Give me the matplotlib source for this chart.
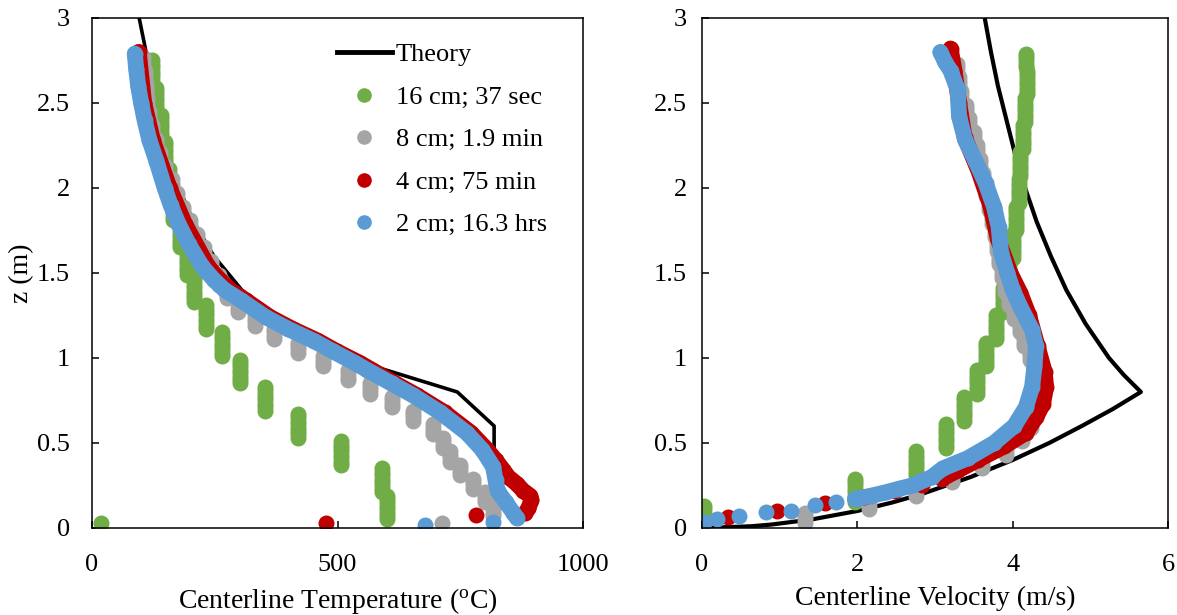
import numpy as np
import matplotlib
matplotlib.use("Agg")
import matplotlib.pyplot as plt
from matplotlib.lines import Line2D
from matplotlib.ticker import FuncFormatter

plt.rcParams['font.family'] = ['Liberation Serif', 'DejaVu Serif']
plt.rcParams['mathtext.fontset'] = 'custom'
plt.rcParams['mathtext.rm'] = 'Liberation Serif'
plt.rcParams['mathtext.it'] = 'Liberation Serif:italic'

# ---------------- data ----------------
labels = ['Theory', '16 cm; 37 sec', '8 cm; 1.9 min', '4 cm; 75 min', '2 cm; 16.3 hrs']
c_theory, c_green, c_gray, c_red, c_blue = '#000000', '#70AD47', '#A5A5A5', '#C00000', '#5B9BD5'

# Theory temperature (deg C) vs z (m)
theory_T_z = [0.0, 0.2, 0.4, 0.6, 0.8, 1.0, 1.2, 1.4, 1.6, 1.8, 2.0, 2.2, 2.4, 2.6, 2.8, 3.0]
theory_T = [819, 819, 819, 819, 744, 519, 388, 305, 248, 207, 177, 154, 136, 122, 110, 96]

# Theory velocity (m/s) vs z (m)
theory_v_z = [0.0, 0.01, 0.02, 0.05, 0.1, 0.15, 0.2, 0.3, 0.4, 0.5, 0.6, 0.7, 0.8,
              0.9, 1.0, 1.2, 1.4, 1.6, 1.8, 2.0, 2.2, 2.4, 2.6, 2.8, 3.0]
theory_v = [0.0, 0.63, 0.89, 1.41, 2.00, 2.45, 2.83, 3.46, 4.00, 4.47, 4.89, 5.29, 5.65,
            5.43, 5.24, 4.94, 4.69, 4.49, 4.31, 4.16, 4.03, 3.92, 3.81, 3.72, 3.64]

# 16 cm grid: one value per cell (cell centres)
green_T_z = [0.12, 0.28, 0.44, 0.60, 0.76, 0.92, 1.08, 1.24, 1.40, 1.56, 1.72, 1.88,
             2.04, 2.20, 2.36, 2.52, 2.68]
green_T = [600, 590, 508, 420, 352, 301, 264, 232, 208, 193, 179, 165, 157, 148, 140, 131, 123]
green_T_floor_z, green_T_floor = [0.03], [18]

green_v_z = [0.06, 0.22, 0.38, 0.54, 0.70, 0.86, 1.02, 1.18, 1.34, 1.50, 1.66, 1.82,
             1.98, 2.14, 2.30, 2.46, 2.62, 2.78]
green_v = [0.03, 1.97, 2.75, 3.14, 3.37, 3.54, 3.65, 3.78, 3.87, 3.95, 4.01, 4.04,
           4.08, 4.10, 4.13, 4.16, 4.19, 4.17]

# 8 cm grid
gray_T_z = [0.10, 0.18, 0.26, 0.34, 0.42, 0.50, 0.58, 0.66, 0.74, 0.82, 0.90, 0.98,
            1.06, 1.14, 1.22, 1.30, 1.38, 1.46, 1.54, 1.62, 1.70, 1.78, 1.86, 1.94,
            2.02, 2.10, 2.18, 2.26, 2.34, 2.42, 2.50, 2.58, 2.66, 2.74]
gray_T = [816, 800, 775, 750, 729, 715, 695, 654, 610, 566, 522, 470, 420, 371, 332, 298,
          274, 258, 242, 228, 214, 200, 186, 174, 162, 149, 139, 130, 123, 117, 112, 110, 107, 104]
gray_T_floor_z, gray_T_floor = [0.03], [712]

gray_v_z = [0.06, 0.14, 0.22, 0.30, 0.38, 0.46, 0.54, 0.62, 0.70, 0.78, 0.86, 0.94,
            1.02, 1.10, 1.18, 1.26, 1.34, 1.42, 1.50, 1.58, 1.66, 1.74, 1.82, 1.90,
            1.98, 2.06, 2.14, 2.22, 2.30, 2.38, 2.46, 2.54, 2.62, 2.70]
gray_v = [1.32, 2.15, 2.76, 3.22, 3.60, 3.92, 4.12, 4.23, 4.28, 4.30, 4.30, 4.28, 4.22,
          4.15, 4.10, 4.02, 3.95, 3.90, 3.86, 3.83, 3.80, 3.77, 3.74, 3.70, 3.66, 3.62,
          3.58, 3.54, 3.50, 3.44, 3.40, 3.34, 3.31, 3.28]

# 4 cm grid
red_T_z = [2.80, 2.50, 2.28, 2.00, 1.79, 1.54, 1.46, 1.40, 1.34, 1.24, 1.17, 1.10, 1.04,
           0.97, 0.93, 0.85, 0.78, 0.68, 0.56, 0.46, 0.40, 0.34, 0.30, 0.26, 0.22, 0.19,
           0.165, 0.116, 0.086]
red_T = [95, 106, 124, 158, 189, 236, 260, 282, 313, 363, 409, 461, 498, 546, 570, 618,
         662, 718, 772, 805, 822, 838, 848, 865, 878, 892, 895, 889, 882]
red_T_base_z, red_T_base = [0.077, 0.03], [782, 476]

red_v_z = [2.82, 2.69, 2.50, 2.30, 2.10, 1.90, 1.70, 1.50, 1.38, 1.25, 1.07, 0.92, 0.83,
           0.73, 0.65, 0.56, 0.48, 0.40, 0.34, 0.29]
red_v = [3.20, 3.25, 3.31, 3.38, 3.56, 3.71, 3.81, 3.97, 4.10, 4.21, 4.32, 4.41, 4.43,
         4.39, 4.30, 4.17, 3.89, 3.55, 3.30, 3.09]
red_v_base_z = [0.25, 0.22, 0.18, 0.145, 0.10, 0.063]
red_v_base = [2.83, 2.49, 2.08, 1.59, 0.97, 0.34]

# 2 cm grid
blue_T_z = [2.79, 2.70, 2.60, 2.50, 2.40, 2.28, 2.16, 2.00, 1.90, 1.79, 1.67, 1.54, 1.46,
            1.40, 1.34, 1.24, 1.17, 1.10, 1.04, 0.97, 0.93, 0.85, 0.78, 0.68, 0.56, 0.46,
            0.36, 0.28, 0.22, 0.15, 0.09, 0.06]
blue_T = [87, 90, 94, 100, 107, 117, 131, 148, 160, 176, 197, 224, 248, 270, 303, 354,
          400, 452, 490, 536, 560, 610, 654, 709, 763, 795, 817, 822, 826, 843, 858, 865]
blue_T_base_z, blue_T_base = [0.037, 0.018], [817, 678]

blue_v_z = [2.80, 2.74, 2.69, 2.58, 2.42, 2.28, 2.16, 2.03, 1.89, 1.77, 1.62, 1.50, 1.40,
            1.30, 1.165, 1.07, 0.95, 0.83, 0.71, 0.60, 0.50, 0.41, 0.35, 0.30, 0.25, 0.23,
            0.21, 0.19, 0.17]
blue_v = [3.07, 3.13, 3.20, 3.29, 3.31, 3.39, 3.52, 3.65, 3.76, 3.82, 3.85, 3.93, 4.00,
          4.10, 4.25, 4.30, 4.28, 4.25, 4.17, 4.02, 3.76, 3.42, 3.10, 2.96, 2.71, 2.53,
          2.37, 2.18, 1.97]
blue_v_base_z = [0.15, 0.135, 0.10, 0.094, 0.07, 0.053, 0.037]
blue_v_base = [1.72, 1.45, 1.14, 0.83, 0.48, 0.19, 0.02]

# ---------------- drawing ----------------
FS_TICK = 19
FS_LAB = 20
FS_LEG = 19
MS = 11.5
SUB16 = np.array([-0.07, -0.05, -0.03, -0.01, 0.01, 0.03, 0.05, 0.07])
SUB8 = np.array([-0.03, -0.01, 0.01, 0.03])


def cell_samples(zc, vals, offs):
    zs = (np.asarray(zc, float)[:, None] + offs[None, :]).ravel()
    vs = np.repeat(np.asarray(vals, float), len(offs))
    keep = (zs >= 0.03) & (zs <= 2.80)
    return vs[keep], zs[keep]


def dots(ax, x, z, c):
    ax.plot(x, z, ls='none', marker='o', ms=MS, mfc=c, mec='none')


def band(ax, x, z, c):
    ax.plot(x, z, ls='-', lw=MS, color=c, marker='o', ms=MS, mfc=c, mec='none',
            solid_capstyle='round', solid_joinstyle='round')


fig = plt.figure(figsize=(11.77, 6.15), dpi=100)
axL = fig.add_axes([0.0782, 0.1415, 0.4171, 0.8293])
axR = fig.add_axes([0.5964, 0.1415, 0.3960, 0.8293])

# left panel: temperature
axL.plot(theory_T, theory_T_z, color=c_theory, lw=2.6)
x, z = cell_samples(green_T_z, green_T, SUB16)
dots(axL, x, z, c_green)
dots(axL, green_T_floor, green_T_floor_z, c_green)
x, z = cell_samples(gray_T_z, gray_T, SUB8)
dots(axL, x, z, c_gray)
dots(axL, gray_T_floor, gray_T_floor_z, c_gray)
band(axL, red_T, red_T_z, c_red)
dots(axL, red_T_base, red_T_base_z, c_red)
band(axL, blue_T, blue_T_z, c_blue)
dots(axL, blue_T_base, blue_T_base_z, c_blue)

# right panel: velocity
axR.plot(theory_v, theory_v_z, color=c_theory, lw=3.0)
x, z = cell_samples(green_v_z, green_v, SUB16)
dots(axR, x, z, c_green)
x, z = cell_samples(gray_v_z, gray_v, SUB8)
dots(axR, x, z, c_gray)
band(axR, red_v, red_v_z, c_red)
dots(axR, red_v_base, red_v_base_z, c_red)
band(axR, blue_v, blue_v_z, c_blue)
dots(axR, blue_v_base, blue_v_base_z, c_blue)

fmt = FuncFormatter(lambda v, p: f'{v:g}')
for ax in (axL, axR):
    ax.set_ylim(0, 3)
    ax.set_yticks([0, 0.5, 1, 1.5, 2, 2.5, 3])
    ax.yaxis.set_major_formatter(fmt)
    ax.tick_params(direction='in', length=5, width=1.1, labelsize=FS_TICK, colors='black')
    ax.tick_params(axis='x', pad=19)
    for s in ax.spines.values():
        s.set_linewidth(1.1)
        s.set_color('black')
axL.tick_params(axis='y', pad=16)
axR.tick_params(axis='y', pad=11)

axL.set_xlim(0, 1000)
axL.set_xticks([0, 500, 1000])
axR.set_xlim(0, 6)
axR.set_xticks([0, 2, 4, 6])

axL.set_xlabel(r'Centerline Temperature ($^{\mathrm{o}}$C)', fontsize=FS_LAB, labelpad=7)
axR.set_xlabel('Centerline Velocity (m/s)', fontsize=FS_LAB, labelpad=7)
axL.set_ylabel('z (m)', fontsize=FS_LAB, labelpad=2)

handles = [Line2D([], [], color=c_theory, lw=3.5)]
for c in (c_green, c_gray, c_red, c_blue):
    handles.append(Line2D([], [], ls='none', marker='o', ms=10.5, mfc=c, mec='none'))
axL.legend(handles, labels, loc='upper left', bbox_to_anchor=(0.498, 0.951),
           frameon=False, fontsize=FS_LEG, handlelength=2.1, handletextpad=0.15,
           labelspacing=0.72, borderpad=0, borderaxespad=0)

fig.savefig('out.png', dpi=100)
